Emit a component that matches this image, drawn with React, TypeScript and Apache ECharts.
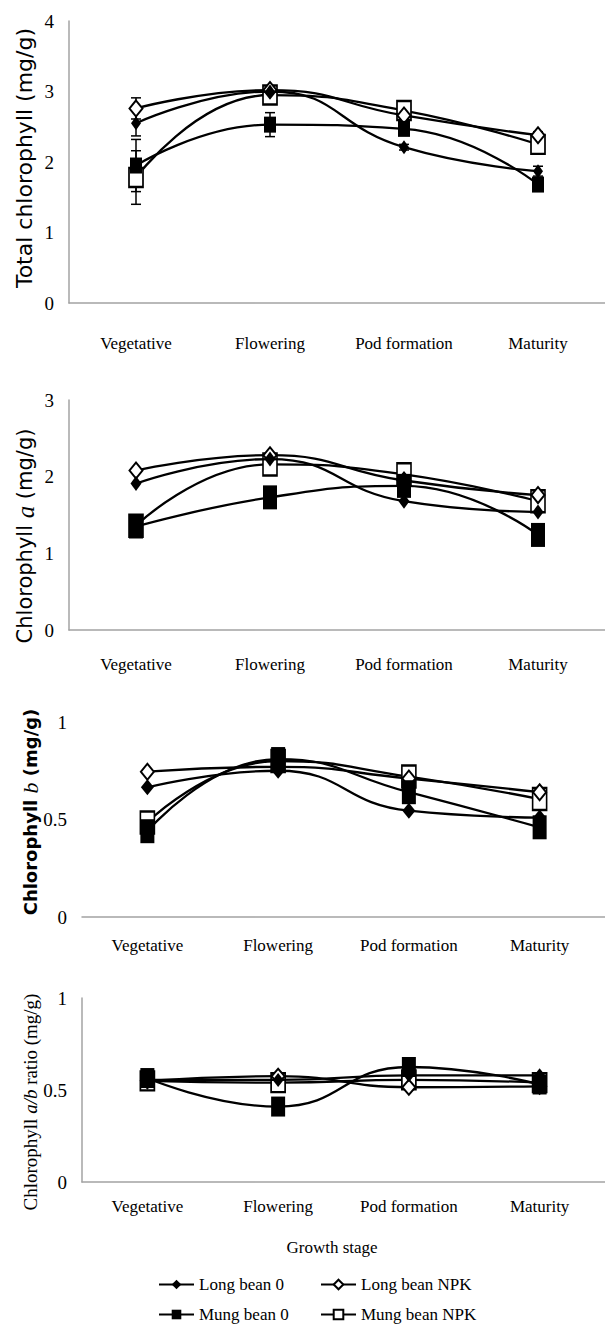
import React, { useEffect, useRef } from 'react';
import * as echarts from 'echarts';

// ---------- data ----------
const categories = ['Vegetative', 'Flowering', 'Pod formation', 'Maturity'];
const seriesNames = ['Long bean 0', 'Long bean NPK', 'Mung bean 0', 'Mung bean NPK'];

// Total chlorophyll (mg/g)
const totalLB0 = [2.55, 3.0, 2.21, 1.87];
const totalLBNPK = [2.76, 3.02, 2.66, 2.38];
const totalMB0 = [1.95, 2.53, 2.47, 1.68];
const totalMBNPK = [1.78, 2.95, 2.73, 2.25];
// error bars (total chlorophyll)
const totalErrLB0 = [0.18, 0.05, 0.04, 0.07];
const totalErrLBNPK = [0.15, 0.05, 0.05, 0.05];
const totalErrMB0 = [0.37, 0.17, 0.05, 0.05];
const totalErrMBNPK = [0.38, 0.05, 0.05, 0.05];

// Chlorophyll a (mg/g)
const aLB0 = [1.91, 2.23, 1.68, 1.54];
const aLBNPK = [2.08, 2.28, 1.95, 1.76];
const aMB0 = [1.35, 1.73, 1.88, 1.24];
const aMBNPK = [1.36, 2.16, 2.03, 1.68];

// Chlorophyll b (mg/g)
const bLB0 = [0.665, 0.75, 0.545, 0.51];
const bLBNPK = [0.745, 0.77, 0.71, 0.64];
const bMB0 = [0.44, 0.81, 0.64, 0.46];
const bMBNPK = [0.485, 0.8, 0.72, 0.605];

// Chlorophyll a/b ratio
const rLB0 = [0.555, 0.555, 0.58, 0.58];
const rLBNPK = [0.55, 0.575, 0.515, 0.52];
const rMB0 = [0.565, 0.41, 0.625, 0.53];
const rMBNPK = [0.55, 0.54, 0.555, 0.54];

// ---------- styles ----------
const SERIF = '"Liberation Serif", "Times New Roman", serif';
const SANS = '"DejaVu Sans", Verdana, sans-serif';
const AXIS_GRAY = '#a3a3a3';

const panels = [
  {
    grid: { left: 69, top: 21, width: 541, height: 282 },
    max: 4, interval: 1, labelMargin: 32, yLine: true,
    values: [totalLB0, totalLBNPK, totalMB0, totalMBNPK],
    errors: [totalErrLB0, totalErrLBNPK, totalErrMB0, totalErrMBNPK],
    sizes: { dia: [10, 14], odia: [13, 16], sq: [12, 16], osq: [14, 19] },
  },
  {
    grid: { left: 69, top: 400, width: 541, height: 230 },
    max: 3, interval: 1, labelMargin: 26, yLine: true,
    values: [aLB0, aLBNPK, aMB0, aMBNPK],
    errors: null,
    sizes: { dia: [11, 15], odia: [13, 16], sq: [14, 24], osq: [14, 22] },
  },
  {
    grid: { left: 82, top: 722, width: 527, height: 195 },
    max: 1, interval: 0.5, labelMargin: 20, yLine: false,
    values: [bLB0, bLBNPK, bMB0, bMBNPK],
    errors: null,
    sizes: { dia: [13, 16], odia: [13, 16], sq: [14, 24], osq: [14, 22] },
  },
  {
    grid: { left: 82, top: 998, width: 535, height: 184 },
    max: 1, interval: 0.5, labelMargin: 16, yLine: true,
    values: [rLB0, rLBNPK, rMB0, rMBNPK],
    errors: null,
    sizes: { dia: [11, 14], odia: [13, 15], sq: [14, 20], osq: [14, 19] },
  },
];

// per series marker style
const markerDefs = [
  { symbol: 'diamond', filled: true, key: 'dia', z: 5 },
  { symbol: 'diamond', filled: false, key: 'odia', z: 4 },
  { symbol: 'rect', filled: true, key: 'sq', z: 6 },
  { symbol: 'rect', filled: false, key: 'osq', z: 3 },
];

function buildOption() {
  const grid: any[] = [];
  const xAxis: any[] = [];
  const yAxis: any[] = [];
  const series: any[] = [];

  panels.forEach((p, i) => {
    grid.push({ ...p.grid, containLabel: false });
    xAxis.push({
      type: 'category',
      gridIndex: i,
      data: categories,
      boundaryGap: true,
      axisLine: { show: true, lineStyle: { color: AXIS_GRAY, width: 1.5 } },
      axisTick: { show: false },
      splitLine: { show: false },
      axisLabel: { margin: p.labelMargin, fontFamily: SERIF, fontSize: 17, color: '#000' },
    });
    yAxis.push({
      type: 'value',
      gridIndex: i,
      min: 0,
      max: p.max,
      interval: p.interval,
      axisLine: { show: p.yLine, lineStyle: { color: AXIS_GRAY, width: 1.5 } },
      axisTick: { show: false },
      splitLine: { show: false },
      axisLabel: { margin: 15, fontFamily: SERIF, fontSize: 19, color: '#000' },
    });

    seriesNames.forEach((name, s) => {
      const m = markerDefs[s];
      const size = (p.sizes as any)[m.key];
      series.push({
        type: 'line',
        name,
        xAxisIndex: i,
        yAxisIndex: i,
        data: p.values[s],
        smooth: 0.5,
        symbol: m.symbol,
        symbolSize: size,
        showSymbol: true,
        z: m.z,
        lineStyle: { color: '#000', width: 2.3 },
        itemStyle: {
          color: m.filled ? '#000' : '#fff',
          borderColor: '#000',
          borderWidth: m.filled ? 0 : 2,
        },
        emphasis: { disabled: true },
        silent: true,
      });

      if (p.errors) {
        const errs = p.errors[s];
        series.push({
          type: 'custom',
          name: 'err ' + name,
          xAxisIndex: i,
          yAxisIndex: i,
          z: 2,
          silent: true,
          encode: { x: 0, y: 1 },
          data: p.values[s].map((v, k) => [k, v, errs[k]]),
          renderItem: (params: any, api: any) => {
            const x = api.value(0);
            const v = api.value(1);
            const e = api.value(2);
            const top = api.coord([x, v + e]);
            const bot = api.coord([x, v - e]);
            const w = 5;
            const st = { stroke: '#000', lineWidth: 1.5 };
            return {
              type: 'group',
              children: [
                { type: 'line', shape: { x1: top[0], y1: top[1], x2: bot[0], y2: bot[1] }, style: st },
                { type: 'line', shape: { x1: top[0] - w, y1: top[1], x2: top[0] + w, y2: top[1] }, style: st },
                { type: 'line', shape: { x1: bot[0] - w, y1: bot[1], x2: bot[0] + w, y2: bot[1] }, style: st },
              ],
            };
          },
        });
      }
    });
  });

  const legendPos = [
    { left: 158, top: 1276 },
    { left: 320, top: 1276 },
    { left: 158, top: 1306 },
    { left: 320, top: 1306 },
  ];
  const legend = seriesNames.map((name, k) => ({
    data: [name],
    ...legendPos[k],
    padding: 0,
    itemWidth: 35,
    itemHeight: 12,
    selectedMode: false,
    textStyle: { fontFamily: SERIF, fontSize: 17, color: '#000' },
  }));

  const rot = Math.PI / 2;
  const yName = (x: number, y: number, text: string, font: any, rich?: any) => ({
    type: 'text',
    x,
    y,
    rotation: rot,
    silent: true,
    style: {
      text,
      fill: '#000',
      ...font,
      rich,
      align: 'center',
      verticalAlign: 'middle',
      textAlign: 'center',
      textVerticalAlign: 'middle',
    },
  });

  const graphic = [
    yName(24, 158, 'Total chlorophyll (mg/g)', { fontFamily: SANS, fontSize: 22 }),
    yName(25, 536, '{n|Chlorophyll }{i|a}{n| (mg/g)}', { fontFamily: SANS, fontSize: 21 }, {
      n: { fontFamily: SANS, fontSize: 21, fill: '#000' },
      i: { fontFamily: SERIF, fontStyle: 'italic', fontSize: 25, fill: '#000' },
    }),
    yName(30, 812, '{n|Chlorophyll }{i|b}{n| (mg/g)}', { fontFamily: SANS, fontSize: 18 }, {
      n: { fontFamily: SANS, fontSize: 18, fontWeight: 'bold', fill: '#000' },
      i: { fontFamily: SERIF, fontStyle: 'italic', fontSize: 22, fill: '#000' },
    }),
    yName(30, 1102, '{n|Chlorophyll }{i|a/b}{n| ratio (mg/g)}', { fontFamily: SERIF, fontSize: 19 }, {
      n: { fontFamily: SERIF, fontSize: 19, fill: '#000' },
      i: { fontFamily: SERIF, fontStyle: 'italic', fontSize: 19, fill: '#000' },
    }),
    {
      type: 'text',
      x: 332,
      y: 1247,
      silent: true,
      style: {
        text: 'Growth stage',
        fill: '#000',
        fontFamily: SERIF,
        fontSize: 17,
        align: 'center',
        verticalAlign: 'middle',
        textAlign: 'center',
        textVerticalAlign: 'middle',
      },
    },
  ];

  return {
    animation: false,
    backgroundColor: '#fff',
    grid,
    xAxis,
    yAxis,
    series,
    legend,
    graphic,
  };
}

export default function App() {
  const ref = useRef<HTMLDivElement>(null);
  useEffect(() => {
    const chart = echarts.init(ref.current!, null, { renderer: 'svg' });
    chart.setOption(buildOption() as any);
    return () => chart.dispose();
  }, []);
  return (
    <div
      ref={ref}
      style={{ position: 'absolute', left: 0, top: 0, width: 605, height: 1324, background: '#fff' }}
    />
  );
}
